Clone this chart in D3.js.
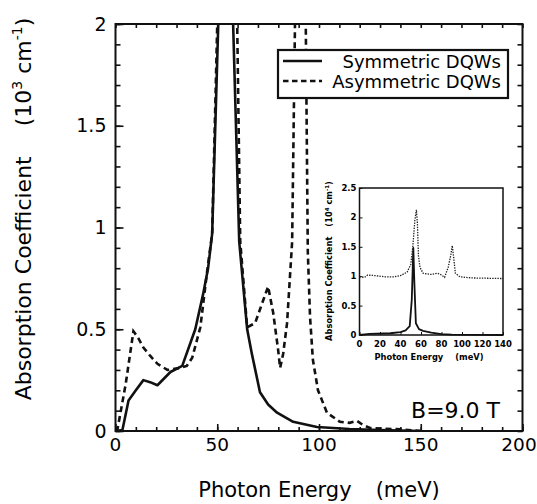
<!DOCTYPE html>
<html>
<head>
<meta charset="utf-8">
<script src="https://cdn.jsdelivr.net/npm/d3@7"></script>
<style>
  html, body { margin: 0; padding: 0; background: white; }
  svg { display: block; font-family: "DejaVu Sans", sans-serif; }
</style>
</head>
<body>
<div id="content"></div>
<script>
/* global d3 */

// main plot data: photon energy (meV), absorption (10^3 cm^-1); peaks run off scale
const symmetricDQW = [
  [0, 0], [3.4, 0.005], [6.4, 0.15], [10, 0.2], [13.7, 0.25], [17, 0.24], [20.6, 0.225],
  [27, 0.29], [32.8, 0.32], [39.2, 0.5], [43, 0.67], [45.5, 0.8], [47.5, 0.97], [50.5, 2.0],
  [52.5, 6], [54, 15], [55.5, 6], [57.8, 2.0], [60.8, 0.93], [64.7, 0.5], [67, 0.38],
  [71, 0.19], [75, 0.13], [79.4, 0.09], [87.3, 0.045], [99, 0.02], [115, 0.01], [130, 0.005],
  [150, 0]
];
const asymmetricDQW = [
  [0, 0], [1, 0.01], [5, 0.23], [8.8, 0.49], [11, 0.46], [13.7, 0.41], [17, 0.37],
  [20.6, 0.33], [25.5, 0.3], [31.9, 0.31], [35, 0.32], [37.7, 0.36], [41.7, 0.51],
  [45.1, 0.79], [47.5, 0.97], [50, 2.0], [52.5, 6], [55, 11.5], [57.5, 6], [59.8, 2.0],
  [61.3, 0.93], [64.7, 0.51], [68.6, 0.53], [72.5, 0.64], [75, 0.71], [77.5, 0.58],
  [79.9, 0.4], [80.9, 0.31], [82.4, 0.38], [84.3, 0.53], [85.8, 0.77], [86.8, 0.93],
  [88.2, 2.0], [91, 5], [93.5, 2.0], [94.5, 0.88], [95.6, 0.56], [97, 0.35], [99.5, 0.2],
  [103.9, 0.09], [110.3, 0.045], [115, 0.04], [118.6, 0.05], [121.6, 0.03], [125, 0.015],
  [140, 0.008], [150, 0]
];

// inset data: absorption in 10^4 cm^-1 (asymmetric curve offset by 1)
const insetSymmetric = [
  [0, 0], [10, 0.02], [30, 0.03], [40, 0.05], [45, 0.08], [49, 0.15], [51, 0.6],
  [52.5, 1.48], [53.5, 0.9], [55, 0.2], [58, 0.1], [62, 0.07], [70, 0.04], [80, 0.015],
  [90, 0.005], [140, 0]
];
const insetAsymmetric = [
  [0, 0.99], [5, 0.98], [8, 1.02], [15, 1.01], [25, 0.99], [33, 0.99], [40, 1.01],
  [46.5, 1.07], [50, 1.2], [52, 1.5], [54, 1.95], [55.5, 2.13], [56.5, 1.9], [57.5, 1.35],
  [59, 1.15], [62, 1.05], [70, 1.03], [76, 1.05], [80, 1.02], [83, 0.98], [86.5, 1.15],
  [89, 1.35], [90.5, 1.52], [92, 1.3], [93.5, 1.05], [98, 0.99], [110, 0.97], [140, 0.96]
];

const xMajor = [0, 50, 100, 150, 200];
const xMinor = d3.range(0, 201, 10);
const yMajor = [0, 0.5, 1, 1.5, 2];
const yMinor = d3.range(0, 2.001, 0.1);
const insetXTicks = [0, 20, 40, 60, 80, 100, 120, 140];
const insetYTicks = [0, 0.5, 1, 1.5, 2, 2.5];
const legendLabels = ['Symmetric DQWs', 'Asymmetric DQWs'];

const width = 537, height = 504;
const box = { left: 115.5, right: 522.5, top: 24, bottom: 431 };
const inBox = { left: 359.5, right: 503, top: 188, bottom: 335 };

const svg = d3.select('#content').append('svg')
  .attr('width', width).attr('height', height)
  .attr('viewBox', [0, 0, width, height]);

const x = d3.scaleLinear().domain([0, 200]).range([box.left, box.right]);
const y = d3.scaleLinear().domain([0, 2]).range([box.bottom, box.top]);

svg.append('clipPath').attr('id', 'plotClip')
  .append('rect').attr('x', box.left).attr('y', box.top)
  .attr('width', box.right - box.left).attr('height', box.bottom - box.top);

// curves
const line = d3.line().x(d => x(d[0])).y(d => y(d[1]));
const curves = svg.append('g').attr('clip-path', 'url(#plotClip)');
curves.append('path').attr('d', line(symmetricDQW))
  .attr('fill', 'none').attr('stroke', '#111').attr('stroke-width', 2.6).attr('stroke-linejoin', 'round');
curves.append('path').attr('d', line(asymmetricDQW))
  .attr('fill', 'none').attr('stroke', '#111').attr('stroke-width', 2.6)
  .attr('stroke-dasharray', '6,4');

// ticks (inward) on all four sides
function tickAxis (axis, values, size, tx, ty) {
  const g = svg.append('g').attr('transform', `translate(${tx},${ty})`)
    .call(axis.tickValues(values).tickSize(size).tickFormat(''));
  g.select('.domain').remove();
  g.selectAll('line').attr('stroke', '#111').attr('stroke-width', 1.6);
  return g;
}
tickAxis(d3.axisBottom(x), xMinor, -4, 0, box.bottom);
tickAxis(d3.axisBottom(x), xMajor, -7, 0, box.bottom);
tickAxis(d3.axisTop(x), xMinor, -4, 0, box.top);
tickAxis(d3.axisLeft(y), yMinor, -5, box.left, 0);
tickAxis(d3.axisLeft(y), yMajor, -8, box.left, 0);
tickAxis(d3.axisRight(y), yMinor, -5, box.right, 0);

// tick labels (last one kept inside the page)
svg.append('g').selectAll('text').data(xMajor).join('text')
  .attr('x', d => Math.min(x(d), width - 18)).attr('y', box.bottom + 20)
  .attr('text-anchor', 'middle').style('font-size', '18.5px').text(d => d);
svg.append('g').selectAll('text').data(yMajor).join('text')
  .attr('x', box.left - 9).attr('y', d => y(d) + 6.5)
  .attr('text-anchor', 'end').style('font-size', '19px').text(d => d);

// frame
svg.append('rect').attr('x', box.left).attr('y', box.top)
  .attr('width', box.right - box.left).attr('height', box.bottom - box.top)
  .attr('fill', 'none').attr('stroke', '#111').attr('stroke-width', 2);

// axis titles
const yTitle = svg.append('text')
  .attr('transform', 'translate(31,209) rotate(-90)')
  .attr('text-anchor', 'middle').style('font-size', '22px');
yTitle.append('tspan').text('Absorption Coefficient');
yTitle.append('tspan').attr('dx', 30).text('(10');
yTitle.append('tspan').attr('dy', -9).style('font-size', '14px').text('3');
yTitle.append('tspan').attr('dy', 9).text(' cm');
yTitle.append('tspan').attr('dy', -9).style('font-size', '14px').text('-1');
yTitle.append('tspan').attr('dy', 9).text(')');

const xTitle = svg.append('text').attr('x', 319).attr('y', 497)
  .attr('text-anchor', 'middle').style('font-size', '21px');
xTitle.append('tspan').text('Photon Energy');
xTitle.append('tspan').attr('dx', 24).text('(meV)');

// legend
const legend = svg.append('g');
legend.append('rect').attr('x', 278).attr('y', 50).attr('width', 230).attr('height', 48)
  .attr('fill', 'white').attr('stroke', '#111').attr('stroke-width', 2.2);
legendLabels.forEach((label, i) => {
  const ly = 61 + i * 20;
  legend.append('line').attr('x1', 283).attr('x2', 322).attr('y1', ly).attr('y2', ly)
    .attr('stroke', '#111').attr('stroke-width', 2.4)
    .attr('stroke-dasharray', i === 0 ? null : '5.5,3.5');
  legend.append('text').attr('x', 501).attr('y', ly + 7)
    .attr('text-anchor', 'end').style('font-size', '18px').text(label);
});

svg.append('text').attr('x', 500).attr('y', 418)
  .attr('text-anchor', 'end').style('font-size', '22px').text('B=9.0 T');

// inset
const ix = d3.scaleLinear().domain([0, 140]).range([inBox.left, inBox.right]);
const iy = d3.scaleLinear().domain([0, 2.5]).range([inBox.bottom, inBox.top]);
const inset = svg.append('g');
inset.append('rect').attr('x', inBox.left).attr('y', inBox.top)
  .attr('width', inBox.right - inBox.left).attr('height', inBox.bottom - inBox.top)
  .attr('fill', 'white');
const iline = d3.line().x(d => ix(d[0])).y(d => iy(d[1]));
inset.append('path').attr('d', iline(insetAsymmetric))
  .attr('fill', 'none').attr('stroke', '#222').attr('stroke-width', 1.3)
  .attr('stroke-dasharray', '1.4,1.2');
inset.append('path').attr('d', iline(insetSymmetric))
  .attr('fill', 'none').attr('stroke', '#111').attr('stroke-width', 1.8).attr('stroke-linejoin', 'round');

const ixAxis = inset.append('g').attr('transform', `translate(0,${inBox.bottom})`)
  .call(d3.axisBottom(ix).tickValues(insetXTicks).tickSize(-3).tickFormat(''));
const iyAxis = inset.append('g').attr('transform', `translate(${inBox.left},0)`)
  .call(d3.axisLeft(iy).tickValues(insetYTicks).tickSize(-3).tickFormat(''));
[ixAxis, iyAxis].forEach(g => {
  g.select('.domain').remove();
  g.selectAll('line').attr('stroke', '#111').attr('stroke-width', 1);
});
inset.append('rect').attr('x', inBox.left).attr('y', inBox.top)
  .attr('width', inBox.right - inBox.left).attr('height', inBox.bottom - inBox.top)
  .attr('fill', 'none').attr('stroke', '#111').attr('stroke-width', 1.5);

inset.append('g').selectAll('text').data(insetXTicks).join('text')
  .attr('x', d => ix(d)).attr('y', inBox.bottom + 12)
  .attr('text-anchor', 'middle').style('font-size', '8.5px').style('font-weight', 'bold')
  .text(d => d);
inset.append('g').selectAll('text').data(insetYTicks).join('text')
  .attr('x', inBox.left - 3).attr('y', d => iy(d) + 3)
  .attr('text-anchor', 'end').style('font-size', '8.5px').style('font-weight', 'bold')
  .text(d => d);

const ixTitle = inset.append('text').attr('x', 429).attr('y', 360)
  .attr('text-anchor', 'middle').style('font-size', '8.3px').style('font-weight', 'bold');
ixTitle.append('tspan').text('Photon Energy');
ixTitle.append('tspan').attr('dx', 12).text('(meV)');

const iyTitle = inset.append('text').attr('transform', 'translate(332,261) rotate(-90)')
  .attr('text-anchor', 'middle').style('font-size', '8.3px').style('font-weight', 'bold');
iyTitle.append('tspan').text('Absorption Coefficient');
iyTitle.append('tspan').attr('dx', 10).text('(10');
iyTitle.append('tspan').attr('dy', -3.5).style('font-size', '5.5px').text('4');
iyTitle.append('tspan').attr('dy', 3.5).text(' cm');
iyTitle.append('tspan').attr('dy', -3.5).style('font-size', '5.5px').text('-1');
iyTitle.append('tspan').attr('dy', 3.5).text(')');
</script>
</body>
</html>
